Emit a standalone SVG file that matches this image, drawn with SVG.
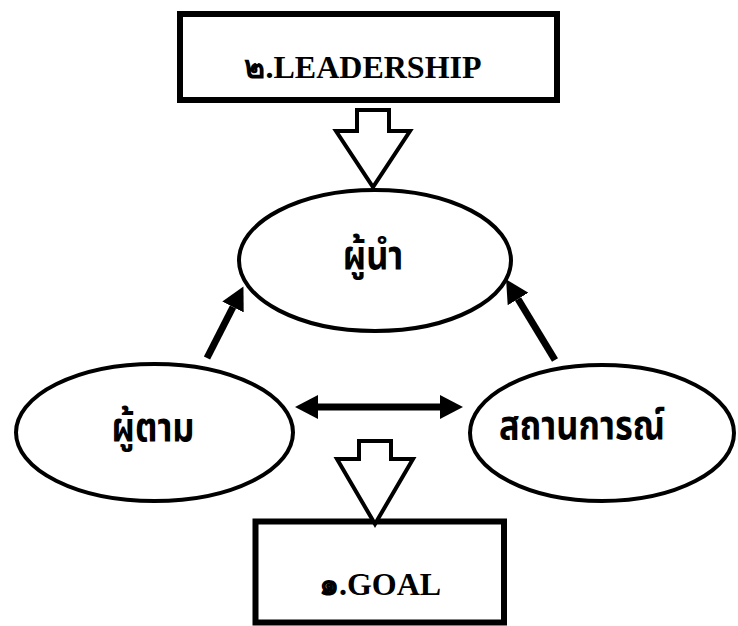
<svg xmlns="http://www.w3.org/2000/svg" width="738" height="626" viewBox="0 0 738 626">
<style>
.box{fill:#fff;stroke:#000;stroke-width:6}
.ell{fill:#fff;stroke:#000;stroke-width:4}
.hollow{fill:#fff;stroke:#000;stroke-width:4;stroke-linejoin:miter}
.lat{font-family:"Liberation Serif","DejaVu Serif",serif;font-weight:bold;font-size:32px;fill:#000}
.th{font-family:"Noto Sans Thai","Noto Sans","DejaVu Sans",sans-serif;font-weight:bold;font-size:40px;fill:#000}
.ln{stroke:#000;stroke-width:7;fill:none}
</style>
<defs>
<marker id="ah" markerUnits="userSpaceOnUse" markerWidth="24" markerHeight="24" refX="0" refY="12" orient="auto-start-reverse" viewBox="0 0 24 24">
<path d="M0,0 L23,12 L0,24 Z" fill="#000"/>
</marker>
</defs>
<g id="leadership">
<rect class="box" x="180" y="14" width="377" height="86"/>
<text class="lat" x="363" y="78" text-anchor="middle">๒.LEADERSHIP</text>
</g>
<g id="goal">
<rect class="box" x="255.5" y="521.5" width="248.5" height="101"/>
<text class="lat" x="380" y="595" text-anchor="middle">๑.GOAL</text>
</g>
<g id="leader">
<ellipse class="ell" cx="375" cy="260.5" rx="136" ry="70.5"/>
<text class="th" transform="translate(373,269) scale(0.86,1)" text-anchor="middle">ผู้นำ</text>
</g>
<g id="follower">
<ellipse class="ell" cx="154.5" cy="432.5" rx="138.5" ry="68.5"/>
<text class="th" transform="translate(153,441) scale(0.86,1)" text-anchor="middle">ผู้ตาม</text>
</g>
<g id="situation">
<ellipse class="ell" cx="602" cy="433" rx="132" ry="68"/>
<text class="th" transform="translate(582,439) scale(0.86,1)" text-anchor="middle">สถานการณ์</text>
</g>
<g id="connectors">
<path class="hollow" d="M357,110 H389 V131 H410 L373,187 L336,131 H357 Z"/>
<path class="hollow" d="M359,441 H391 V459 H413 L375,524 L337,459 H359 Z"/>
<line class="ln" x1="207" y1="358" x2="233" y2="307" marker-end="url(#ah)"/>
<line class="ln" x1="555" y1="360" x2="518" y2="299" marker-end="url(#ah)"/>
<line class="ln" x1="318" y1="407" x2="440" y2="407" stroke-width="8" marker-start="url(#ah)" marker-end="url(#ah)"/>
</g>
</svg>
